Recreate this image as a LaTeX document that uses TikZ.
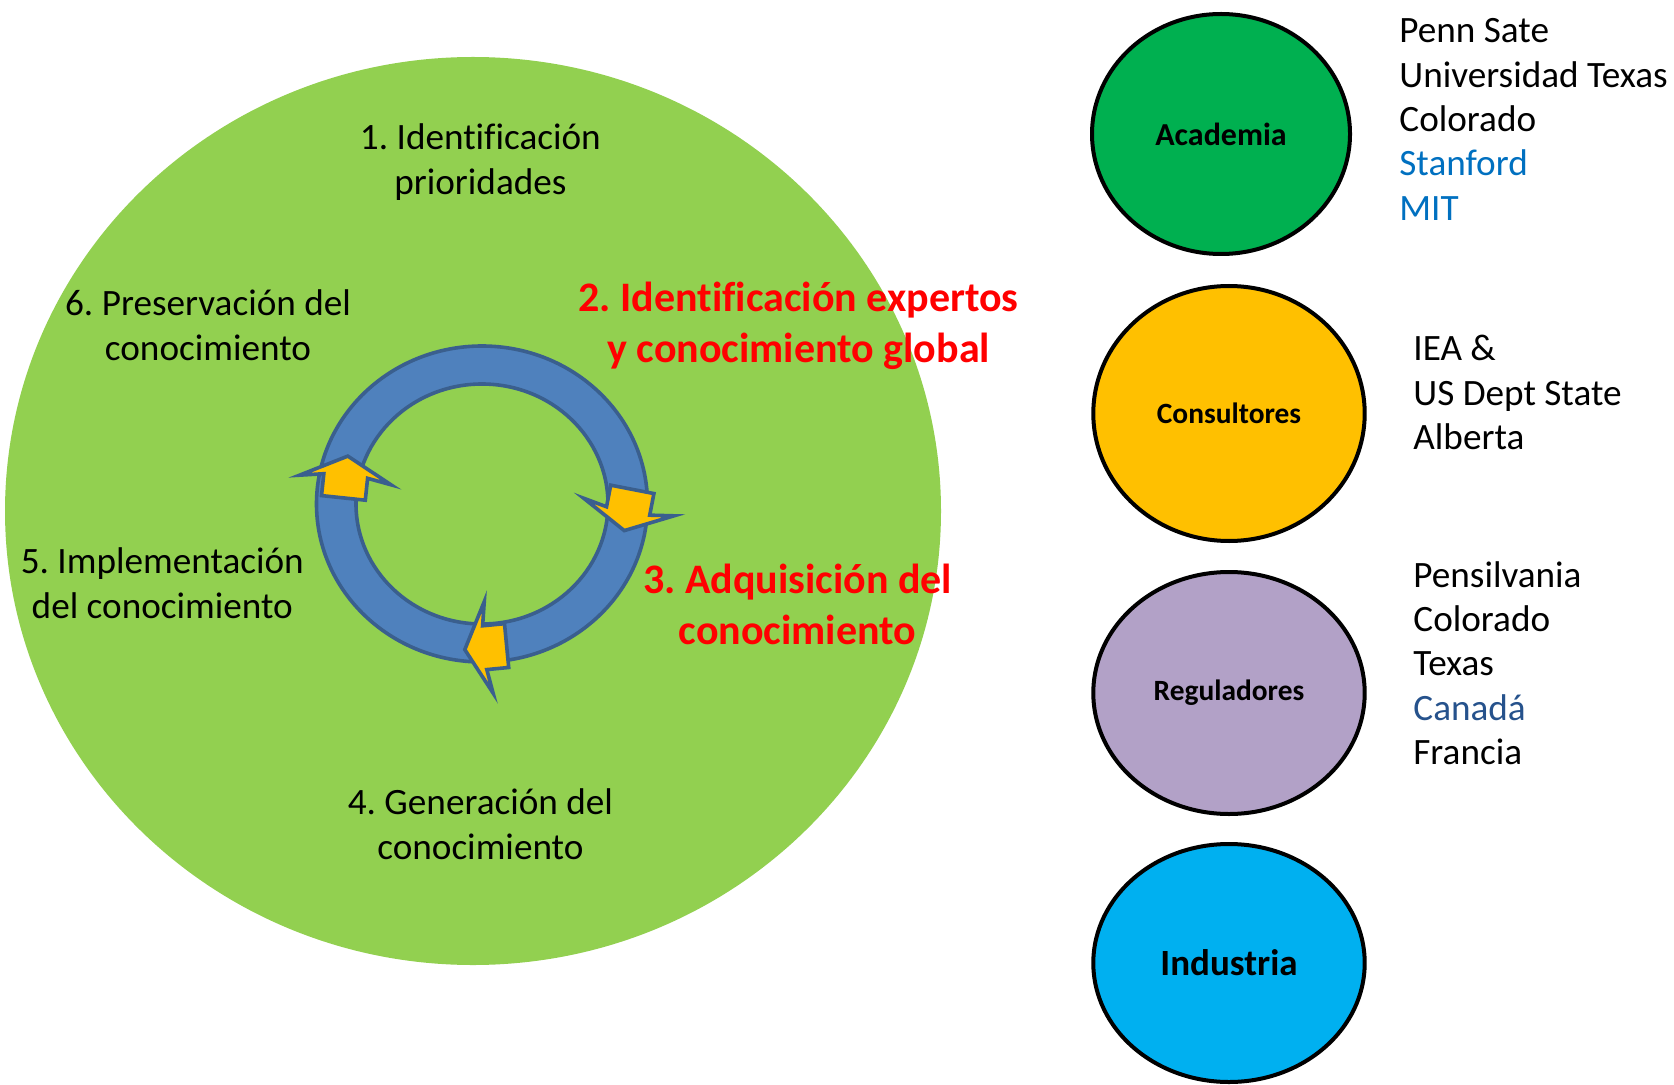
\documentclass[tikz,border=0pt]{standalone}
\usepackage{fontspec}
\setmainfont{Carlito}[Ligatures=NoCommon]
\usetikzlibrary{shapes.geometric}
\definecolor{leafgreen}{HTML}{92D050}
\definecolor{ringblue}{HTML}{4F81BD}
\definecolor{ringedge}{HTML}{3A5F8E}
\definecolor{gold}{HTML}{FFC000}
\definecolor{acadgreen}{HTML}{00B050}
\definecolor{reglilac}{HTML}{B2A1C7}
\definecolor{indblue}{HTML}{00B0F0}
\definecolor{linkblue}{HTML}{0070C0}
\definecolor{slateblue}{RGB}{38,82,140}
\tikzset{
  stepname/.style={align=center,inner sep=0pt,font=\fontsize{18.6}{22.4}\selectfont},
  hotname/.style={align=center,inner sep=0pt,text=red,font=\fontsize{21}{25.2}\selectfont\bfseries},
  actor/.style={ellipse,draw=black,line width=2pt,inner sep=0pt,font=\fontsize{14.7}{18}\selectfont\bfseries},
  members/.style={align=left,anchor=west,inner sep=0pt,font=\fontsize{18.6}{22.2}\selectfont},
  turn/.style={fill=gold,draw=ringedge,line width=1.8pt},
}
\frenchspacing
\begin{document}
\begin{tikzpicture}[x=0.5pt,y=0.5pt]
\useasboundingbox (0,0) rectangle (1674,-1085);
% the big cycle
\fill[leafgreen] (473,-511) ellipse (468 and 454);
\fill[ringblue,even odd rule] (482,-504) ellipse (165.5 and 158) (482,-504) ellipse (126 and 120);
\draw[ringedge,line width=1.8pt] (482,-504) ellipse (165.5 and 158);
\draw[ringedge,line width=1.8pt] (482,-504) ellipse (126 and 120);
%
\draw[turn,shift={(345.5,-478)},rotate=174] (22,20) -- (22,-2) -- (46,2) -- (0,-22) -- (-46,2) -- (-22,-2) -- (-22,20) -- cycle;
\draw[turn,shift={(628.5,-509)},rotate=-11] (22,20) -- (22,-2) -- (46,2) -- (0,-22) -- (-46,2) -- (-22,-2) -- (-22,20) -- cycle;
\draw[turn,shift={(486.7,-647.5)},rotate=-84.5] (22,20) -- (22,-2) -- (46,2) -- (0,-22) -- (-46,2) -- (-22,-2) -- (-22,20) -- cycle;
%
\node[stepname] (prio) at (480.4,-162.9) {1. Identificación\strut\\prioridades\strut};
\node[hotname] (expert) at (798.6,-327) {2. Identificación expertos\strut\\y conocimiento global\strut};
\node[hotname] (acquire) at (797.5,-608.8) {3. Adquisición del\strut\\conocimiento\strut};
\node[stepname] (generate) at (480.4,-828) {4. Generación del\strut\\conocimiento\strut};
\node[stepname] (apply) at (162.3,-586.7) {5. Implementación\strut\\del conocimiento\strut};
\node[stepname] (keep) at (208,-329.4) {6. Preservación del\strut\\conocimiento\strut};
%
% the actors
\node[actor,fill=acadgreen,minimum width=129pt,minimum height=120pt,font=\fontsize{16}{19}\selectfont\bfseries] (acad) at (1221,-134) {Academia};
\node[actor,fill=gold,minimum width=135.7pt,minimum height=127.5pt] (consult) at (1229,-413.5) {Consultores};
\node[actor,fill=reglilac,minimum width=135.7pt,minimum height=121pt] (regul) at (1229,-693) {Reguladores};
\node[actor,fill=indblue,minimum width=135.7pt,minimum height=119pt,font=\fontsize{18.5}{22}\selectfont\bfseries] (indus) at (1229,-963) {Industria};
%
\node[members] (acadlist) at (1399,-122.6) {Penn Sate\strut\\Universidad Texas\strut\\Colorado\strut\\\textcolor{linkblue}{Stanford}\strut\\\textcolor{linkblue}{MIT}\strut};
\node[members] (consultlist) at (1413,-396.3) {IEA \&\strut\\US Dept State\strut\\Alberta\strut};
\node[members] (regullist) at (1413,-667.1) {Pensilvania\strut\\Colorado\strut\\Texas\strut\\\textcolor{slateblue}{Canadá}\strut\\Francia\strut};
\end{tikzpicture}
\end{document}
